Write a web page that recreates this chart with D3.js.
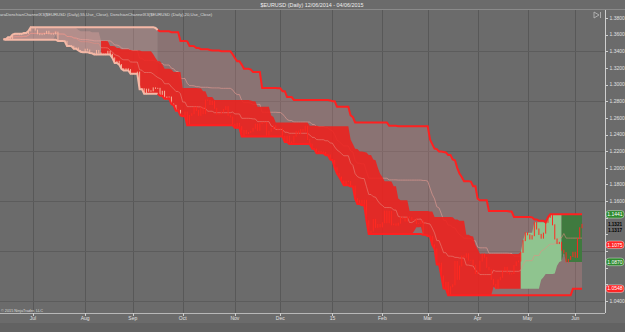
<!DOCTYPE html>
<html>
<head>
<meta charset="utf-8">
<script src="https://cdn.jsdelivr.net/npm/d3@7"></script>
<style>
  body { margin: 0; background: #6b6b6b; }
  svg { display: block; font-family: "Liberation Sans", Arial, sans-serif; }
</style>
</head>
<body>
<div id="chart"></div>
<script>
// Daily EURUSD closes, one array per month (weekdays only)
var jun14 = [1.3545, 1.3540, 1.3570, 1.3545, 1.3600, 1.3610, 1.3605, 1.3600, 1.3610, 1.3620, 1.3615, 1.3645, 1.3690];
var jul14 = [1.3680, 1.3655, 1.3610, 1.3600, 1.3605, 1.3615, 1.3640, 1.3610, 1.3605, 1.3610, 1.3630, 1.3525,
             1.3525, 1.3525, 1.3520, 1.3465, 1.3465, 1.3460, 1.3430, 1.3440, 1.3410, 1.3395, 1.3390];
var aug14 = [1.3425, 1.3415, 1.3380, 1.3375, 1.3360, 1.3410, 1.3380, 1.3365, 1.3360, 1.3365, 1.3400,
             1.3365, 1.3320, 1.3260, 1.3280, 1.3240, 1.3190, 1.3170, 1.3190, 1.3180, 1.3130];
var sep14 = [1.3130, 1.3130, 1.3150, 1.2945, 1.2950, 1.2890, 1.2945, 1.2920, 1.2925, 1.2960, 1.2955,
             1.2955, 1.2865, 1.2920, 1.2830, 1.2850, 1.2850, 1.2765, 1.2750, 1.2685, 1.2690, 1.2630];
var oct14 = [1.2620, 1.2670, 1.2510, 1.2630, 1.2650, 1.2730, 1.2690, 1.2630, 1.2730, 1.2650, 1.2815, 1.2810,
             1.2760, 1.2800, 1.2715, 1.2645, 1.2650, 1.2670, 1.2700, 1.2735, 1.2630, 1.2610, 1.2525];
var nov14 = [1.2480, 1.2535, 1.2495, 1.2375, 1.2450, 1.2410, 1.2425, 1.2440, 1.2475, 1.2525,
             1.2450, 1.2530, 1.2545, 1.2545, 1.2390, 1.2440, 1.2470, 1.2505, 1.2470, 1.2455];
var dec14 = [1.2470, 1.2380, 1.2310, 1.2380, 1.2285, 1.2310, 1.2380, 1.2440, 1.2410, 1.2460, 1.2440, 1.2500,
             1.2340, 1.2285, 1.2230, 1.2225, 1.2175, 1.2195, 1.2190, 1.2185, 1.2150, 1.2155, 1.2100];
var jan15 = [1.2090, 1.2000, 1.1930, 1.1890, 1.1840, 1.1790, 1.1840, 1.1835, 1.1775, 1.1780, 1.1630,
             1.1565, 1.1610, 1.1550, 1.1610, 1.1365, 1.1205, 1.1240, 1.1380, 1.1285, 1.1320, 1.1290];
var feb15 = [1.1340, 1.1480, 1.1340, 1.1475, 1.1315, 1.1325, 1.1310, 1.1335, 1.1405, 1.1390,
             1.1360, 1.1410, 1.1405, 1.1375, 1.1380, 1.1330, 1.1330, 1.1365, 1.1195, 1.1195];
var mar15 = [1.1180, 1.1175, 1.1075, 1.1025, 1.0840, 1.0855, 1.0700, 1.0550, 1.0625, 1.0468, 1.0570,
             1.0595, 1.0875, 1.0660, 1.0820, 1.0940, 1.0925, 1.0967, 1.0890, 1.0890, 1.0830, 1.0730];
var apr15 = [1.0760, 1.0880, 1.0965, 1.0925, 1.0805, 1.0775, 1.0660, 1.0600, 1.0548, 1.0655, 1.0685,
             1.0765, 1.0805, 1.0740, 1.0725, 1.0730, 1.0825, 1.0870, 1.0880, 1.0985, 1.1125, 1.1220];
var may15 = [1.1195, 1.1145, 1.1185, 1.1345, 1.1265, 1.1200, 1.1155, 1.1215, 1.1345, 1.1405, 1.1441,
             1.1315, 1.1145, 1.1090, 1.1105, 1.1010, 1.0980, 1.0870, 1.0900, 1.0935, 1.0985];
var jun15 = [1.0925, 1.1150, 1.1280, 1.1321];

var monthTickLabels = ["Jul", "Aug", "Sep", "Oct", "Nov", "Dec", "15", "Feb", "Mar", "Apr", "May", "Jun"];
var monthTickKeys = ["2014-07", "2014-08", "2014-09", "2014-10", "2014-11", "2014-12",
                     "2015-01", "2015-02", "2015-03", "2015-04", "2015-05", "2015-06"];
var priceTicks = [1.38, 1.36, 1.34, 1.32, 1.30, 1.28, 1.26, 1.24, 1.22, 1.20, 1.18, 1.16, 1.14, 1.12, 1.10, 1.08, 1.06, 1.04];
var gridPrices = [1.34, 1.28, 1.22, 1.16, 1.10, 1.04];

// channel state changes
var regime20 = [["2014-06-12", "flat"], ["2014-08-12", "down"], ["2015-04-28", "up"], ["2015-05-22", "up2"]];
var regime55 = [["2014-06-12", "flat"], ["2014-09-16", "down"]];
var regimeBars = [["2014-06-12", "flat"], ["2014-10-01", "down"]];

// last value markers on the price axis
var axisLabels = [
  { text: "1.1441", value: 1.1441, kind: "green" },
  { text: "1.1321", value: 1.1321, kind: "black" },
  { text: "1.1317", value: 1.1317, kind: "black" },
  { text: "1.1075", value: 1.1075, kind: "red" },
  { text: "1.0870", value: 1.0870, kind: "green" },
  { text: "1.0548", value: 1.0548, kind: "red" }
];

var closes = [].concat(jun14, jul14, aug14, sep14, oct14, nov14, dec14, jan15, feb15, mar15, apr15, may15, jun15);
var dates = d3.timeDay.range(new Date(2014, 5, 12), new Date(2015, 5, 5))
  .filter(function(d) { return d.getDay() !== 0 && d.getDay() !== 6; })
  .slice(0, closes.length);

function donchian(period) {
  return closes.map(function(c, i) {
    var w = closes.slice(Math.max(0, i - period + 1), i + 1);
    var hi = d3.max(w), lo = d3.min(w);
    return { i: i, hi: hi, lo: lo, mid: (hi + lo) / 2 };
  });
}
var ch55 = donchian(55);
var ch20 = donchian(20);

var parseDay = d3.timeParse("%Y-%m-%d");
function segments(regime) {
  var starts = regime.map(function(r) { return d3.bisectLeft(dates, parseDay(r[0])); });
  return regime.map(function(r, k) {
    var end = k < regime.length - 1 ? starts[k + 1] : closes.length - 1;
    return { state: r[1], from: starts[k], to: end };
  });
}

var W = 625, H = 332;
var plotTop = 10, plotBottom = 313, plotRight = 605;

var x = d3.scaleLinear().domain([0, closes.length - 1]).range([3.5, 582]);
var y = d3.scaleLinear().domain([1.04, 1.38]).range([301, 18]);

var svg = d3.select("#chart").append("svg").attr("width", W).attr("height", H);

svg.append("rect").attr("width", W).attr("height", H).attr("fill", "#6b6b6b");
svg.append("rect").attr("x", 0).attr("y", 323).attr("width", W).attr("height", 9).attr("fill", "#626262");

// grid
var fmtMonth = d3.timeFormat("%Y-%m");
var monthIdx = monthTickKeys.map(function(k) {
  return dates.findIndex(function(d) { return fmtMonth(d) === k; });
});
svg.append("g").selectAll("line").data(monthIdx).enter().append("line")
  .attr("x1", function(i) { return Math.round(x(i)) + 0.5; })
  .attr("x2", function(i) { return Math.round(x(i)) + 0.5; })
  .attr("y1", plotTop).attr("y2", plotBottom)
  .attr("stroke", "#585858").attr("stroke-width", 1);
svg.append("g").selectAll("line").data(gridPrices).enter().append("line")
  .attr("x1", 0).attr("x2", plotRight)
  .attr("y1", function(v) { return Math.round(y(v)) + 0.5; })
  .attr("y2", function(v) { return Math.round(y(v)) + 0.5; })
  .attr("stroke", "#5c5c5c").attr("stroke-width", 1);

var plot = svg.append("g");

var fill55 = { flat: "rgba(245,175,170,0.32)", down: "rgba(205,135,135,0.32)" };
var fill20 = { flat: "rgba(245,175,170,0.30)", down: "rgba(238,32,28,0.88)", up: "#8fc48f", up2: "#3f7a3f" };
var line55 = { flat: "#f4b8a6", down: "#ff2020" };
var bar = { flat: "#f6b49e", down: "#ff2a22" };

function drawChannel(ch, regime, fills) {
  var area = d3.area().x(function(d) { return x(d.i); })
    .y0(function(d) { return y(d.lo); }).y1(function(d) { return y(d.hi); });
  segments(regime).forEach(function(s) {
    var part = ch.slice(s.from, s.to + 1);
    plot.append("path").attr("d", area(part)).attr("fill", fills[s.state]);
  });
}
function drawBands(ch, regime, lines, lw) {
  segments(regime).forEach(function(s) {
    var part = ch.slice(s.from, s.to + 1);
    ["hi", "lo"].forEach(function(k) {
      var ln = d3.line().x(function(d) { return x(d.i); }).y(function(d) { return y(d[k]); });
      plot.append("path").attr("d", ln(part)).attr("fill", "none")
        .attr("stroke", lines[s.state]).attr("stroke-width", lw);
    });
  });
}
function drawMid(ch, color) {
  var ln = d3.line().x(function(d) { return x(d.i); }).y(function(d) { return y(d.mid); });
  plot.append("path").attr("d", ln(ch)).attr("fill", "none")
    .attr("stroke", color).attr("stroke-width", 0.8);
}

drawChannel(ch55, regime55, fill55);
drawMid(ch55, "rgba(240,160,150,0.7)");
drawChannel(ch20, regime20, fill20);
drawMid(ch20, "rgba(230,140,130,0.7)");

// price bars: previous close to close
var barSegs = segments(regimeBars);
closes.forEach(function(c, i) {
  if (i === 0) return;
  var st = barSegs.filter(function(s) { return i >= s.from; }).pop().state;
  var y0 = y(closes[i - 1]), y1 = y(c);
  plot.append("line")
    .attr("x1", x(i)).attr("x2", x(i))
    .attr("y1", Math.min(y0, y1) - 0.5).attr("y2", Math.max(y0, y1) + 0.5)
    .attr("stroke", bar[st]).attr("stroke-width", 1);
});

drawBands(ch55, regime55, line55, 2);

// axes frame
svg.append("line").attr("x1", 0).attr("x2", W).attr("y1", 9.5).attr("y2", 9.5).attr("stroke", "#8a8a8a");
svg.append("line").attr("x1", plotRight + 0.5).attr("x2", plotRight + 0.5).attr("y1", plotTop).attr("y2", plotBottom)
  .attr("stroke", "#cfcfcf");
svg.append("line").attr("x1", 0).attr("x2", plotRight).attr("y1", plotBottom + 0.5).attr("y2", plotBottom + 0.5)
  .attr("stroke", "#b8b8b8");

// x axis
var xa = svg.append("g");
xa.selectAll("line").data(monthIdx).enter().append("line")
  .attr("x1", function(i) { return Math.round(x(i)) + 0.5; })
  .attr("x2", function(i) { return Math.round(x(i)) + 0.5; })
  .attr("y1", plotBottom).attr("y2", plotBottom + 3).attr("stroke", "#cfcfcf");
xa.selectAll("text").data(monthIdx).enter().append("text")
  .attr("x", function(i) { return x(i); }).attr("y", 320)
  .attr("text-anchor", "middle").attr("font-size", 5).attr("fill", "#e0e0e0")
  .text(function(d, k) { return monthTickLabels[k]; });

// value markers, pushed apart when they overlap
var placed = axisLabels.map(function(l) { return Object.assign({ py: y(l.value) }, l); })
  .sort(function(a, b) { return a.py - b.py; });
for (var k = 1; k < placed.length; k++) {
  var gap = placed[k].kind === "black" && placed[k - 1].kind === "black" ? 5.5 : 8.5;
  if (placed[k].py - placed[k - 1].py < gap) placed[k].py = placed[k - 1].py + gap;
}

// y axis (tick labels under a marker are hidden, as on the platform)
var ya = svg.append("g");
ya.selectAll("line").data(priceTicks).enter().append("line")
  .attr("x1", plotRight).attr("x2", plotRight + 3)
  .attr("y1", function(v) { return Math.round(y(v)) + 0.5; })
  .attr("y2", function(v) { return Math.round(y(v)) + 0.5; })
  .attr("stroke", "#cfcfcf");
var freeTicks = priceTicks.filter(function(v) {
  return placed.every(function(l) { return Math.abs(l.py - y(v)) > 6.5; });
});
ya.selectAll("text").data(freeTicks).enter().append("text")
  .attr("x", plotRight + 4.5).attr("y", function(v) { return y(v) + 1.8; })
  .attr("font-size", 5).attr("fill", "#e0e0e0")
  .text(function(v) { return v.toFixed(4); });

var boxFill = { green: "#2f8a2f", red: "#ff2424" };
placed.forEach(function(l) {
  if (l.kind !== "black") {
    svg.append("rect").attr("x", 606).attr("y", l.py - 3.8).attr("width", 18).attr("height", 7.6)
      .attr("rx", 3).attr("fill", boxFill[l.kind]).attr("stroke", "#ffffff").attr("stroke-width", 0.4);
  }
  svg.append("text").attr("x", 615).attr("y", l.py + 1.8).attr("text-anchor", "middle")
    .attr("font-size", l.kind === "black" ? 4.6 : 5).attr("font-weight", l.kind === "black" ? "bold" : "normal")
    .attr("fill", l.kind === "black" ? "#000000" : "#ffffff").text(l.text);
});

// titles
svg.append("text").attr("x", 312).attr("y", 7).attr("text-anchor", "middle")
  .attr("font-size", 5.4).attr("fill", "#eeeeee")
  .text("$EURUSD (Daily)  12/06/2014 - 04/06/2015");
svg.append("text").attr("x", 0).attr("y", 15.5).attr("font-size", 4.2).attr("fill", "#dddddd")
  .text("araDonchianChannelX3($EURUSD (Daily),55,Use_Close),  DonchianChannelX3($EURUSD (Daily),20,Use_Close)");
svg.append("text").attr("x", 1).attr("y", 312).attr("font-size", 3.8).attr("fill", "#dddddd")
  .text("\u00a9 2015 NinjaTrader, LLC");

// scroll-to-end icon
svg.append("path").attr("d", "M594,12 L594,18 L599,15 Z").attr("fill", "none").attr("stroke", "#bdbdbd").attr("stroke-width", 0.8);
svg.append("line").attr("x1", 600.5).attr("x2", 600.5).attr("y1", 12).attr("y2", 18).attr("stroke", "#bdbdbd").attr("stroke-width", 0.8);
</script>
</body>
</html>
